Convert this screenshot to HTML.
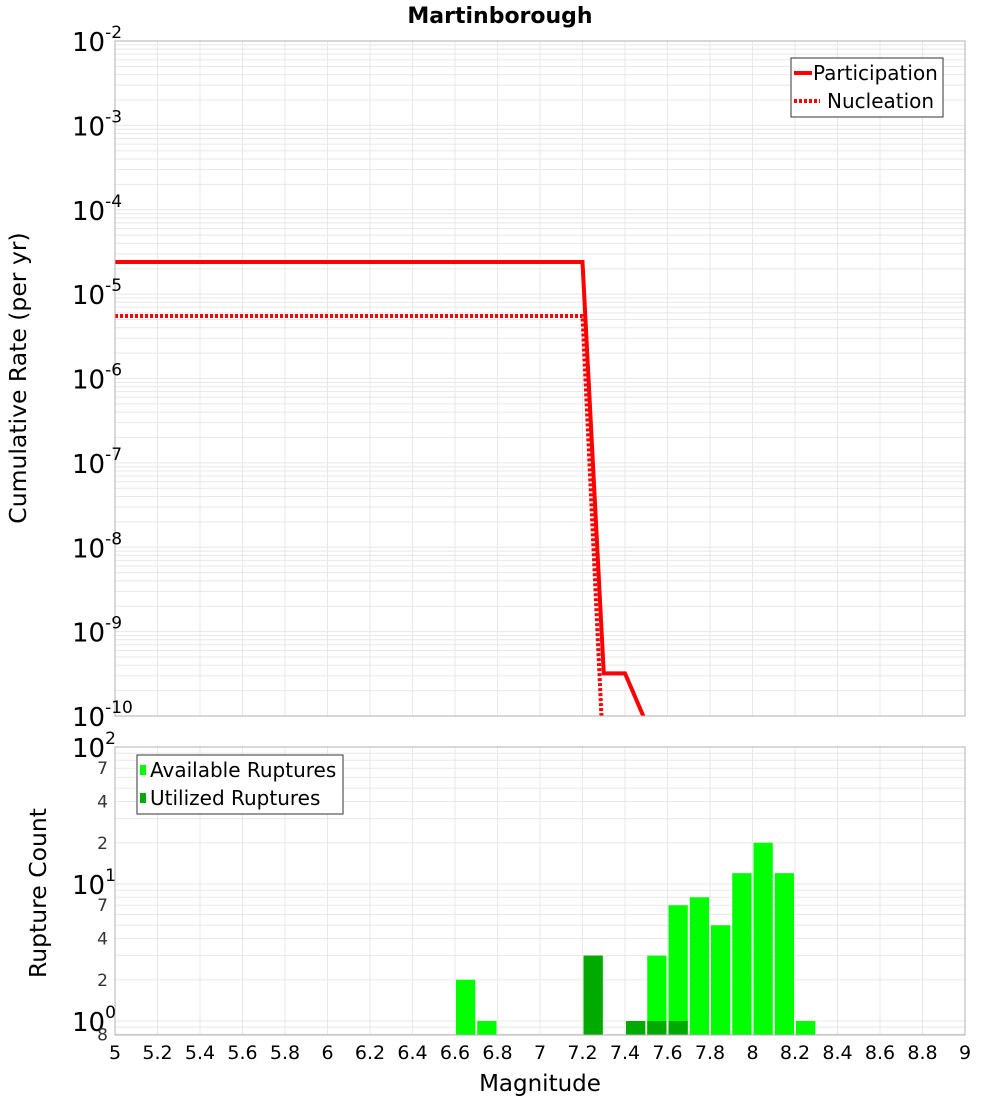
<!DOCTYPE html>
<html><head><meta charset="utf-8"><style>
body{margin:0;background:#fff;font-family:"DejaVu Sans","Liberation Sans",sans-serif}
svg text{font-family:"DejaVu Sans","Liberation Sans",sans-serif}
</style></head><body>
<svg id="c" width="1000" height="1100" xmlns="http://www.w3.org/2000/svg"></svg>
<script>
const mags=[5,7.2,7.3,7.4,7.5];
const participation=[2.4e-5,2.4e-5,3.2e-10,3.2e-10,8.3e-11];
const nucMags=[5,7.2,7.29];
const nucleation=[5.5e-6,5.5e-6,9e-11];
const binStarts=[6.6,6.7,7.2,7.4,7.5,7.6,7.7,7.8,7.9,8.0,8.1,8.2];
const available=[2,1,3,1,3,7,8,5,12,20,12,1];
const utilized=[0,0,3,1,1,1,0,0,0,0,0,0];
const xTicks=[5,5.2,5.4,5.6,5.8,6,6.2,6.4,6.6,6.8,7,7.2,7.4,7.6,7.8,8,8.2,8.4,8.6,8.8,9];

const NS="http://www.w3.org/2000/svg",svg=document.getElementById('c');
function el(t,a,p){const e=document.createElementNS(NS,t);for(const k in a)e.setAttribute(k,a[k]);(p||svg).appendChild(e);return e;}
const L=115,R=965,T1=41,B1=716,T2=747,B2=1035;
const x=m=>L+(m-5)/4*(R-L);
const y1=v=>T1+(-2-Math.log10(v))*(B1-T1)/8;
const y2=v=>1021-Math.log10(v)*137;

const g=el('g',{});
for(let d=-10;d<-2;d++)for(let k=1;k<10;k++){const yy=y1(k*Math.pow(10,d));el('line',{x1:L,x2:R,y1:yy,y2:yy,stroke:'#e8e8e8','stroke-width':1},g);}
[0.8,0.9].concat([1,2,3,4,5,6,7,8,9,10,20,30,40,50,60,70,80,90]).forEach(v=>{const yy=y2(v);el('line',{x1:L,x2:R,y1:yy,y2:yy,stroke:'#e8e8e8','stroke-width':1},g);});
xTicks.forEach(m=>{el('line',{x1:x(m),x2:x(m),y1:T1,y2:B1,stroke:'#e8e8e8'},g);el('line',{x1:x(m),x2:x(m),y1:T2,y2:B2,stroke:'#e8e8e8'},g);});

const clip=el('clipPath',{id:'cp1'});el('rect',{x:L,y:T1,width:R-L,height:B1-T1},clip);
const part=el('polyline',{points:mags.map((m,i)=>x(m)+','+y1(participation[i])).join(' '),fill:'none',stroke:'#ff0000','stroke-width':4,'clip-path':'url(#cp1)'});

const nuc=el('polyline',{points:nucMags.map((m,i)=>x(m)+','+y1(nucleation[i])).join(' '),fill:'none',stroke:'#ff0000','stroke-width':4,'stroke-dasharray':'3,2','clip-path':'url(#cp1)'});


binStarts.forEach((s,i)=>{
  const b=el('rect',{x:x(s)+1,y:y2(available[i]),width:x(s+0.1)-x(s)-2,height:B2-y2(available[i]),fill:'#00ff00'});
  
  if(utilized[i]>0){const u=el('rect',{x:x(s)+1,y:y2(utilized[i]),width:x(s+0.1)-x(s)-2,height:B2-y2(utilized[i]),fill:'#00aa00'});
  }
});

el('rect',{x:L,y:T1,width:R-L,height:B1-T1,fill:'none',stroke:'#b0b0b0'});
el('rect',{x:L,y:T2,width:R-L,height:B2-T2,fill:'none',stroke:'#b0b0b0'});

function txt(s,a,name){const t=el('text',a);t.textContent=s;return t;}
txt('Martinborough',{x:500,y:23,'text-anchor':'middle','font-size':22,'font-weight':'bold'},'chart-title');
for(let d=-10;d<=-2;d++){const yy=y1(Math.pow(10,d));
  const t=txt('10',{x:72,y:yy+10,'font-size':26},'y-tick-label');
  const s=el('tspan',{dy:-13,'font-size':17});s.textContent=String(d);t.appendChild(s);}
[[100,'2'],[10,'1'],[1,'0']].forEach(([v,e])=>{const t=txt('10',{x:72,y:y2(v)+10,'font-size':26},'y-tick-label');const s=el('tspan',{dy:-13,'font-size':17});s.textContent=e;t.appendChild(s);});
[[70,'7'],[40,'4'],[20,'2'],[7,'7'],[4,'4'],[2,'2'],[0.8,'8']].forEach(([v,l])=>txt(l,{x:108,y:y2(v)+6,'text-anchor':'end','font-size':17,fill:'#333'},'y-minor-tick-label'));
xTicks.forEach(m=>txt(String(m),{x:x(m),y:1059,'text-anchor':'middle','font-size':19},'x-tick-label'));
txt('Magnitude',{x:540,y:1091,'text-anchor':'middle','font-size':23},'x-axis-title');
txt('Cumulative Rate (per yr)',{x:0,y:0,transform:'translate(26,378) rotate(-90)','text-anchor':'middle','font-size':23.5},'y-axis-title-top');
txt('Rupture Count',{x:0,y:0,transform:'translate(46,893) rotate(-90)','text-anchor':'middle','font-size':23.5},'y-axis-title-bottom');

const lg=el('g',{});
el('rect',{x:791,y:58,width:152,height:59,fill:'#fff',stroke:'#333'},lg);
el('line',{x1:794,x2:812,y1:73,y2:73,stroke:'#f00','stroke-width':4},lg);
el('line',{x1:794,x2:820,y1:101,y2:101,stroke:'#f00','stroke-width':4,'stroke-dasharray':'3,2'},lg);
txt('Participation',{x:813,y:80,'font-size':20},'legend-entry');
txt('Nucleation',{x:827,y:108,'font-size':20},'legend-entry');
const lg2=el('g',{});
el('rect',{x:137,y:755,width:206,height:59,fill:'#fff',stroke:'#333'},lg2);
el('rect',{x:140,y:765,width:6,height:10,fill:'#00ff00'},lg2);
el('rect',{x:140,y:793,width:6,height:10,fill:'#00aa00'},lg2);
txt('Available Ruptures',{x:150,y:777,'font-size':20},'legend-entry');
txt('Utilized Ruptures',{x:150,y:805,'font-size':20},'legend-entry');
</script>
</body></html>
